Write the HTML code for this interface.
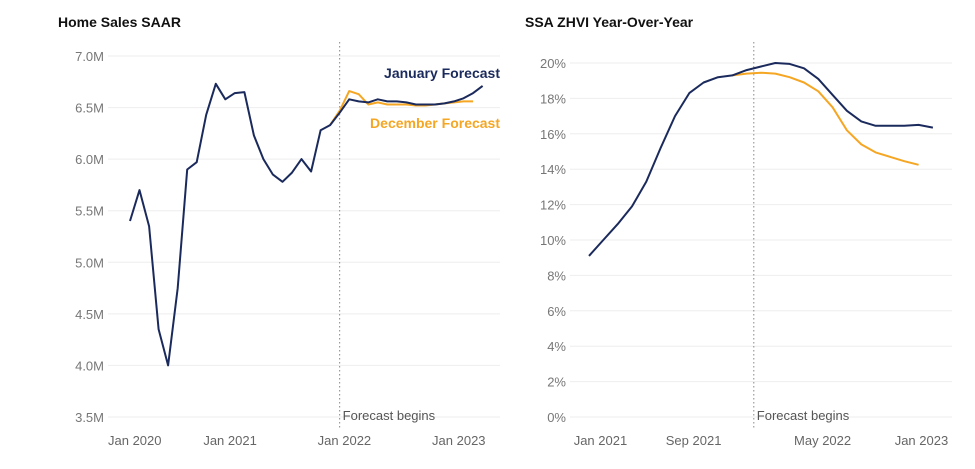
<!DOCTYPE html>
<html><head><meta charset="utf-8">
<style>
html,body{margin:0;padding:0;background:#fff;}
svg{display:block;font-family:"Liberation Sans",sans-serif;}
</style></head>
<body>
<svg id="chart" width="975" height="469" viewBox="0 0 975 469">
<text x="58" y="27" font-size="14" font-weight="bold" fill="#111">Home Sales SAAR</text>
<text x="525" y="27" font-size="14" font-weight="bold" fill="#111">SSA ZHVI Year-Over-Year</text>
<g id="left"></g>
<g id="right"></g>
</svg>
<script>
// Left chart data (monthly index from Feb 2020)
const salesTicks = [3.5,4.0,4.5,5.0,5.5,6.0,6.5,7.0];
const salesXLabels = ["Jan 2020","Jan 2021","Jan 2022","Jan 2023"];
const salesXLabelIdx = [0.5,10.5,22.5,34.5];
const salesJan = [5.40,5.70,5.35,4.35,4.00,4.75,5.90,5.97,6.43,6.73,6.58,6.64,6.65,6.23,6.00,5.85,5.78,5.87,6.00,5.88,6.28,6.33,6.45,6.58,6.56,6.55,6.58,6.56,6.56,6.55,6.53,6.53,6.53,6.54,6.56,6.59,6.64,6.71];
const salesDecStart = 21;
const salesDec = [6.33,6.47,6.66,6.63,6.53,6.55,6.53,6.53,6.53,6.52,6.52,6.53,6.54,6.55,6.56,6.56];
const salesForecastIdx = 22;

// Right chart data (monthly index from Jan 2021)
const zhviTicks = [0,2,4,6,8,10,12,14,16,18,20];
const zhviXLabels = ["Jan 2021","Sep 2021","May 2022","Jan 2023"];
const zhviXLabelIdx = [0.8,7.3,16.3,23.2];
const zhviJan = [9.1,10.0,10.9,11.9,13.3,15.2,17.0,18.3,18.9,19.2,19.3,19.6,19.8,20.0,19.95,19.7,19.1,18.2,17.3,16.7,16.45,16.45,16.45,16.5,16.35];
const zhviDecStart = 10;
const zhviDec = [19.3,19.4,19.45,19.4,19.2,18.9,18.4,17.5,16.2,15.4,14.95,14.7,14.45,14.25];
const zhviForecastIdx = 11.5;

const NS="http://www.w3.org/2000/svg";
function mk(tag,attrs,parent,txt){const e=document.createElementNS(NS,tag);for(const k in attrs)e.setAttribute(k,attrs[k]);if(txt!==undefined)e.textContent=txt;parent.appendChild(e);return e;}

function drawChart(g,cfg){
  const {x0,dx,yTop,yBot,vTop,vBot,gl,gr,ticks,fmt,xl,xli,jan,dec,decStart,fIdx,prefix}=cfg;
  const X=i=>x0+i*dx;
  const Y=v=>yBot-(v-vBot)/(vTop-vBot)*(yBot-yTop);
  ticks.forEach(t=>{
    const ln=mk('line',{x1:gl,x2:gr,y1:Y(t),y2:Y(t),stroke:'#eeeeee','stroke-width':1},g);
    
    
    const tx=mk('text',{x:gl-4,y:Y(t)+5,'text-anchor':'end','font-size':13,fill:'#777'},g,fmt(t));
    
    
  });
  xl.forEach((l,k)=>{
    const tx=mk('text',{x:X(xli[k]),y:445,'text-anchor':'middle','font-size':13,fill:'#666'},g,l);
    
    
  });
  const fx=X(fIdx);
  const fl=mk('line',{x1:fx,x2:fx,y1:42,y2:428,stroke:'#888','stroke-width':1,'stroke-dasharray':'1.5,2.5'},g);
  
  
  const ft=mk('text',{x:fx+3,y:420,'font-size':13,fill:'#555'},g,'Forecast begins');
  
  
  const dp=dec.map((v,i)=>X(decStart+i).toFixed(1)+','+Y(v).toFixed(1)).join(' ');
  const d=mk('polyline',{points:dp,fill:'none',stroke:'#f5a623','stroke-width':2,'stroke-linejoin':'round'},g);
  
  
  const jp=jan.map((v,i)=>X(i).toFixed(1)+','+Y(v).toFixed(1)).join(' ');
  const j=mk('polyline',{points:jp,fill:'none',stroke:'#1b2a5c','stroke-width':2,'stroke-linejoin':'round'},g);
  
  
}

drawChart(document.getElementById('left'),{x0:130,dx:9.53,yTop:56,yBot:417,vTop:7.0,vBot:3.5,gl:108,gr:500,ticks:salesTicks,fmt:t=>t.toFixed(1)+'M',xl:salesXLabels,xli:salesXLabelIdx,jan:salesJan,dec:salesDec,decStart:salesDecStart,fIdx:salesForecastIdx,prefix:'sales'});
drawChart(document.getElementById('right'),{x0:589,dx:14.33,yTop:63,yBot:417,vTop:20,vBot:0,gl:570,gr:952,ticks:zhviTicks,fmt:t=>t+'%',xl:zhviXLabels,xli:zhviXLabelIdx,jan:zhviJan,dec:zhviDec,decStart:zhviDecStart,fIdx:zhviForecastIdx,prefix:'zhvi'});

const L=document.getElementById('left');
const a=mk('text',{x:500,y:78,'text-anchor':'end','font-size':14,'font-weight':'bold',fill:'#1b2a5c'},L,'January Forecast');


const b=mk('text',{x:500,y:128,'text-anchor':'end','font-size':14,'font-weight':'bold',fill:'#f5a623'},L,'December Forecast');


</script>
</body></html>
